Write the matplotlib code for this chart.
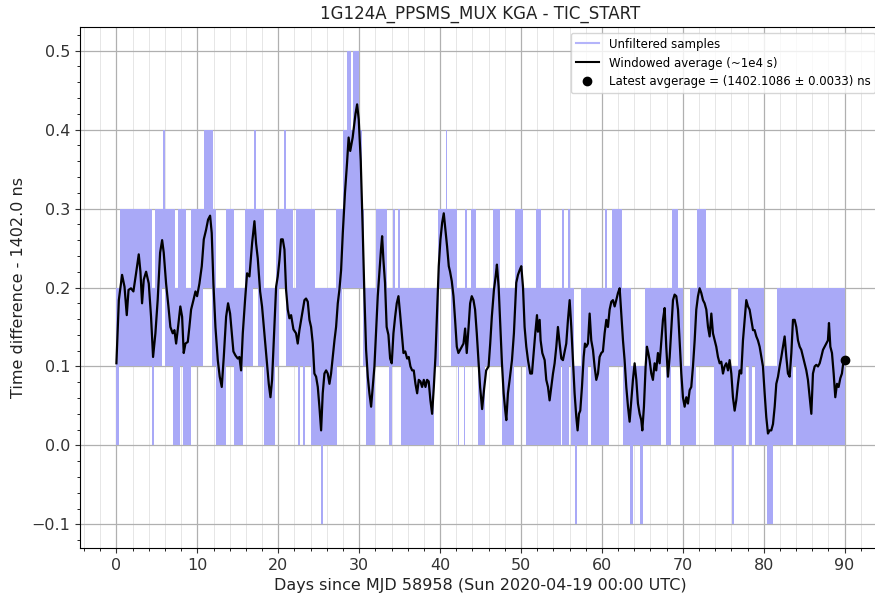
import matplotlib
matplotlib.use("Agg")
import matplotlib.pyplot as plt
from matplotlib.lines import Line2D
from matplotlib.ticker import MultipleLocator

# ---------------- data ----------------
title = "1G124A_PPSMS_MUX KGA - TIC_START"
xlabel = "Days since MJD 58958 (Sun 2020-04-19 00:00 UTC)"
ylabel = "Time difference - 1402.0 ns"

# Unfiltered samples: the quantised signal toggles rapidly between levels.
# For each 0.1 ns level band, the day intervals in which samples occupy it.
band_lows = [-0.1, 0.0, 0.1, 0.2, 0.3, 0.4]
band_m01_00 = [(25.3, 25.5), (56.7, 56.9), (63.5, 63.8), (64.7, 65.1), (76.1, 76.3), (80.4, 81.2)]
band_00_01 = [(0.0, 0.35), (4.45, 4.7), (7.0, 7.9), (8.2, 9.2), (12.3, 13.55), (14.5, 15.6),
              (18.3, 19.6), (22.4, 22.65), (23.0, 23.25), (24.1, 27.3), (30.8, 32.0),
              (33.7, 34.0), (35.2, 39.3), (42.2, 42.4), (42.9, 43.1), (44.7, 45.6),
              (47.7, 49.2), (50.6, 54.9), (55.05, 55.9), (56.2, 58.3), (58.7, 60.9),
              (62.6, 67.3), (67.9, 68.6), (69.6, 71.6), (73.8, 77.8), (78.2, 78.5),
              (78.9, 83.6), (84.0, 90.0)]
band_01_02 = [(0.0, 5.6), (6.0, 10.75), (11.85, 16.85), (17.5, 20.1), (20.9, 27.9),
              (30.45, 39.9), (41.3, 56.6), (57.4, 63.6), (65.3, 70.0), (70.9, 76.0),
              (76.8, 80.1), (81.7, 90.0)]
band_02_03 = [(0.4, 4.4), (4.8, 7.2), (7.6, 7.8), (7.9, 8.6), (9.2, 12.3), (13.5, 14.5),
              (15.9, 18.3), (19.7, 21.8), (22.2, 24.5), (27.2, 30.65), (32.1, 33.4),
              (34.2, 34.4), (34.8, 35.0), (39.8, 42.1), (43.1, 43.3), (43.8, 44.4),
              (46.5, 47.35), (49.25, 50.3), (51.9, 52.5), (55.1, 55.3), (55.8, 56.0),
              (60.4, 60.6), (61.3, 62.45), (68.65, 69.4), (71.75, 72.9)]
band_03_04 = [(5.8, 6.0), (10.85, 11.9), (17.0, 17.2), (20.7, 20.9), (28.0, 30.4), (40.7, 40.9)]
band_04_05 = [(28.45, 29.0), (29.3, 30.0)]
bands = [band_m01_00, band_00_01, band_01_02, band_02_03, band_03_04, band_04_05]

# Windowed average (~1e4 s)
avg_day = [0.0, 0.3, 0.7, 1.0, 1.28, 1.5, 1.8, 2.1, 2.43, 2.76, 2.97, 3.17, 3.38, 3.67, 4.0,
           4.28, 4.53, 4.82, 5.1, 5.4, 5.65, 5.85, 6.14, 6.43, 6.67, 6.96, 7.17, 7.38, 7.62,
           7.9, 8.12, 8.32, 8.53, 8.82, 9.02, 9.23, 9.52, 9.77, 9.97, 10.26, 10.55, 10.8,
           11.08, 11.33, 11.58, 11.78, 11.99, 12.24, 12.53, 12.77, 13.02, 13.27, 13.56, 13.8,
           14.05, 14.26, 14.46, 14.71, 15.0, 15.2, 15.41, 15.62, 15.9, 16.15, 16.44, 16.77,
           17.06, 17.26, 17.47, 17.76, 18.0, 18.29, 18.58, 18.83, 19.04, 19.24, 19.45, 19.74,
           19.94, 20.15, 20.35, 20.56, 20.77, 20.97, 21.18, 21.38, 21.59, 21.88, 22.2, 22.41,
           22.62, 22.83, 23.03, 23.24, 23.44, 23.65, 23.86, 24.06, 24.27, 24.47, 24.68, 24.89,
           25.09, 25.3, 25.5, 25.71, 25.92, 26.12, 26.33, 26.53, 26.74, 26.95, 27.15, 27.36,
           27.56, 27.77, 27.98, 28.25, 28.5, 28.7, 28.9, 29.2, 29.55, 29.75, 29.95, 30.2,
           30.45, 30.65, 30.86, 31.07, 31.27, 31.48, 31.69, 31.89, 32.1, 32.3, 32.5, 32.7,
           32.84, 33.0, 33.2, 33.4, 33.62, 33.83, 34.03, 34.24, 34.45, 34.65, 34.86, 35.06,
           35.27, 35.48, 35.7, 35.93, 36.13, 36.34, 36.55, 36.75, 36.96, 37.17, 37.37, 37.58,
           37.78, 37.99, 38.2, 38.4, 38.6, 38.81, 39.02, 39.23, 39.43, 39.64, 39.84, 40.05,
           40.26, 40.46, 40.67, 40.87, 41.08, 41.24, 41.45, 41.66, 41.86, 42.07, 42.27, 42.48,
           42.69, 42.9, 43.1, 43.3, 43.5, 43.72, 43.92, 44.13, 44.33, 44.54, 44.75, 44.95,
           45.2, 45.45, 45.7, 46.0, 46.2, 46.4, 46.66, 46.87, 47.03, 47.24, 47.45, 47.65,
           47.86, 48.06, 48.19, 48.39, 48.6, 48.89, 49.13, 49.42, 49.63, 49.84, 50.04, 50.25,
           50.45, 50.66, 50.87, 51.15, 51.36, 51.57, 51.77, 51.98, 52.1, 52.31, 52.43, 52.64,
           52.93, 53.13, 53.34, 53.54, 53.75, 53.96, 54.16, 54.37, 54.57, 54.78, 54.99, 55.19,
           55.4, 55.6, 55.81, 56.02, 56.22, 56.43, 56.63, 56.84, 57.0, 57.17, 57.33, 57.54,
           57.75, 57.91, 58.08, 58.28, 58.49, 58.69, 58.9, 59.1, 59.31, 59.52, 59.72, 59.93,
           60.13, 60.34, 60.55, 60.75, 60.96, 61.17, 61.37, 61.58, 61.78, 61.99, 62.2, 62.4,
           62.61, 62.81, 63.02, 63.23, 63.43, 63.64, 63.84, 64.05, 64.26, 64.46, 64.67, 64.87,
           65.0, 65.2, 65.41, 65.57, 65.74, 65.9, 66.11, 66.31, 66.52, 66.72, 66.93, 67.14,
           67.35, 67.55, 67.76, 67.96, 68.17, 68.38, 68.58, 68.79, 68.99, 69.2, 69.41, 69.61,
           69.82, 70.02, 70.23, 70.44, 70.64, 70.85, 71.05, 71.26, 71.47, 71.67, 71.88, 72.08,
           72.29, 72.5, 72.7, 72.91, 73.12, 73.32, 73.53, 73.73, 73.94, 74.14, 74.35, 74.56,
           74.76, 74.97, 75.17, 75.38, 75.59, 75.79, 76.0, 76.2, 76.41, 76.61, 76.82, 77.03,
           77.23, 77.44, 77.65, 77.85, 78.06, 78.26, 78.47, 78.68, 78.88, 79.09, 79.29, 79.5,
           79.71, 79.91, 80.12, 80.32, 80.53, 80.73, 80.94, 81.15, 81.36, 81.56, 81.77, 81.97,
           82.18, 82.39, 82.59, 82.8, 83.0, 83.21, 83.42, 83.62, 83.83, 84.03, 84.24, 84.45,
           84.65, 84.86, 85.06, 85.27, 85.47, 85.68, 85.89, 86.09, 86.3, 86.5, 86.71, 86.92,
           87.12, 87.33, 87.53, 87.74, 87.94, 88.07, 88.24, 88.44, 88.65, 88.85, 89.06, 89.26,
           89.47, 89.67, 89.88, 90.0]
avg_val = [0.104, 0.184, 0.216, 0.201, 0.165, 0.197, 0.199, 0.195, 0.218, 0.242, 0.22, 0.18,
           0.21, 0.22, 0.205, 0.163, 0.112, 0.142, 0.184, 0.244, 0.26, 0.244, 0.205, 0.176,
           0.15, 0.142, 0.146, 0.129, 0.15, 0.176, 0.163, 0.117, 0.129, 0.131, 0.15, 0.172,
           0.184, 0.195, 0.189, 0.205, 0.227, 0.261, 0.273, 0.286, 0.291, 0.269, 0.205, 0.15,
           0.108, 0.087, 0.074, 0.112, 0.163, 0.18, 0.167, 0.142, 0.119, 0.114, 0.11, 0.112,
           0.095, 0.142, 0.184, 0.218, 0.214, 0.256, 0.284, 0.256, 0.237, 0.195, 0.176, 0.142,
           0.108, 0.078, 0.061, 0.083, 0.133, 0.201, 0.214, 0.235, 0.261, 0.261, 0.248, 0.197,
           0.172, 0.161, 0.165, 0.147, 0.142, 0.129, 0.146, 0.159, 0.172, 0.184, 0.186, 0.182,
           0.159, 0.15, 0.129, 0.091, 0.087, 0.074, 0.049, 0.019, 0.066, 0.091, 0.095, 0.091,
           0.078, 0.091, 0.112, 0.133, 0.15, 0.18, 0.197, 0.222, 0.269, 0.32, 0.357, 0.39,
           0.373, 0.39, 0.42, 0.432, 0.413, 0.36, 0.27, 0.19, 0.121, 0.087, 0.066, 0.049, 0.076,
           0.1, 0.146, 0.189, 0.218, 0.248, 0.265, 0.235, 0.206, 0.15, 0.14, 0.11, 0.104, 0.142,
           0.163, 0.18, 0.189, 0.167, 0.142, 0.117, 0.119, 0.11, 0.112, 0.1, 0.095, 0.095,
           0.078, 0.066, 0.083, 0.081, 0.074, 0.083, 0.074, 0.083, 0.081, 0.057, 0.04, 0.074,
           0.112, 0.172, 0.227, 0.261, 0.282, 0.294, 0.273, 0.252, 0.227, 0.22, 0.208, 0.189,
           0.159, 0.125, 0.117, 0.121, 0.125, 0.129, 0.148, 0.117, 0.146, 0.18, 0.189, 0.184,
           0.172, 0.142, 0.108, 0.074, 0.046, 0.072, 0.095, 0.1, 0.129, 0.163, 0.197, 0.214,
           0.229, 0.201, 0.15, 0.104, 0.066, 0.044, 0.032, 0.066, 0.083, 0.108, 0.142, 0.206,
           0.216, 0.222, 0.227, 0.201, 0.15, 0.125, 0.108, 0.091, 0.091, 0.117, 0.142, 0.165,
           0.144, 0.159, 0.133, 0.117, 0.108, 0.083, 0.074, 0.057, 0.074, 0.091, 0.104, 0.125,
           0.15, 0.129, 0.11, 0.108, 0.119, 0.129, 0.159, 0.184, 0.15, 0.108, 0.066, 0.036,
           0.019, 0.04, 0.044, 0.074, 0.112, 0.129, 0.125, 0.129, 0.167, 0.133, 0.121, 0.1,
           0.083, 0.091, 0.112, 0.117, 0.119, 0.142, 0.159, 0.15, 0.172, 0.182, 0.184, 0.176,
           0.184, 0.193, 0.199, 0.167, 0.133, 0.108, 0.074, 0.049, 0.03, 0.057, 0.083, 0.104,
           0.083, 0.053, 0.04, 0.032, 0.019, 0.049, 0.1, 0.125, 0.117, 0.108, 0.091, 0.083,
           0.104, 0.095, 0.117, 0.104, 0.133, 0.159, 0.174, 0.125, 0.087, 0.112, 0.146, 0.184,
           0.191, 0.189, 0.172, 0.133, 0.091, 0.061, 0.049, 0.061, 0.053, 0.07, 0.074, 0.1,
           0.133, 0.172, 0.189, 0.199, 0.193, 0.184, 0.18, 0.172, 0.15, 0.138, 0.167, 0.142,
           0.133, 0.125, 0.112, 0.104, 0.106, 0.091, 0.1, 0.104, 0.095, 0.108, 0.091, 0.061,
           0.044, 0.057, 0.078, 0.095, 0.091, 0.133, 0.159, 0.184, 0.176, 0.172, 0.159, 0.146,
           0.146, 0.138, 0.133, 0.125, 0.112, 0.1, 0.066, 0.036, 0.015, 0.019, 0.019, 0.027,
           0.049, 0.078, 0.087, 0.1, 0.112, 0.125, 0.138, 0.112, 0.091, 0.087, 0.117, 0.159,
           0.159, 0.15, 0.133, 0.125, 0.121, 0.112, 0.104, 0.095, 0.083, 0.061, 0.04, 0.091,
           0.1, 0.102, 0.1, 0.104, 0.112, 0.121, 0.125, 0.129, 0.133, 0.155, 0.125, 0.117,
           0.091, 0.061, 0.078, 0.074, 0.085, 0.091, 0.108, 0.1086]

latest_day = 90.0
latest_val = 0.1086
latest_label = "Latest avgerage = (1402.1086 ± 0.0033) ns"

# ---------------- plot ----------------
band_color = "#a9a9f7"
fig = plt.figure(figsize=(8.75, 5.97), dpi=100)
ax = fig.add_axes([80 / 875, 1 - 548 / 597, (881 - 80) / 875, (548 - 27) / 597])

for low, ivals in zip(band_lows, bands):
    ax.broken_barh([(a, b - a) for a, b in ivals], (low, 0.1),
                   facecolors=band_color, edgecolors="none", zorder=2)

ax.plot(avg_day, avg_val, color="black", lw=1.6, zorder=3)
ax.plot([latest_day], [latest_val], "o", color="black", ms=6, zorder=4)

ax.set_xlim(-4.5, 94.5)
ax.set_ylim(-0.13, 0.53)
ax.xaxis.set_major_locator(MultipleLocator(10))
ax.xaxis.set_minor_locator(MultipleLocator(2))
ax.yaxis.set_major_locator(MultipleLocator(0.1))
ax.yaxis.set_minor_locator(MultipleLocator(0.02))
ax.grid(which="major", color="#b0b0b0", lw=0.9, zorder=0)
ax.grid(which="minor", axis="x", color="#e6e6e6", lw=0.7, zorder=0)
ax.set_axisbelow(True)
ax.tick_params(labelsize=11.5, colors="#333333", labelcolor="#333333")

ax.set_title(title, fontsize=12, color="#222222")
ax.set_xlabel(xlabel, fontsize=11.5, color="#222222")
ax.set_ylabel(ylabel, fontsize=11.5, color="#222222")

handles = [Line2D([], [], color="#b4b4fa", lw=1.5),
           Line2D([], [], color="black", lw=1.5),
           Line2D([], [], color="black", marker="o", ls="none", ms=6)]
labels = ["Unfiltered samples", "Windowed average (~1e4 s)", latest_label]
ax.legend(handles, labels, loc="upper right", fontsize=8.5, framealpha=0.8)

fig.savefig("out.png", dpi=100)
